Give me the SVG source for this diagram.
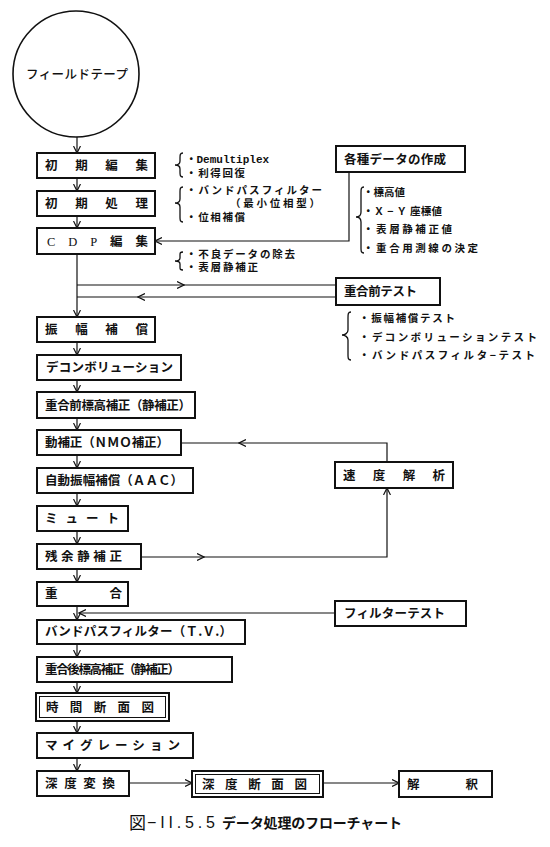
<svg xmlns="http://www.w3.org/2000/svg" width="550" height="847" viewBox="0 0 550 847">
<defs>
<marker id="ah" viewBox="0 0 8 8" refX="7" refY="4" markerWidth="8" markerHeight="8" markerUnits="userSpaceOnUse" orient="auto">
<path d="M0,0.5 L7,4 L0,7.5" fill="none" stroke="#111" stroke-width="1.2"/>
</marker>
<style>
.box{fill:#fff;stroke:#111;stroke-width:2}
.thin{fill:none;stroke:#111;stroke-width:1}
.c{fill:none;stroke:#111;stroke-width:1.2}
.a{fill:none;stroke:#111;stroke-width:1.2;marker-end:url(#ah)}
.t{font-family:"Noto Sans CJK JP","Noto Sans",sans-serif;font-size:12.5px;font-weight:bold;fill:#111}
.s{font-family:"Noto Sans CJK JP","Noto Sans",sans-serif;font-size:10.5px;font-weight:bold;fill:#111}
.br{fill:none;stroke:#111;stroke-width:1.3}
</style>
</defs>
<rect width="550" height="847" fill="#fff"/>

<g id="connectors">
<path class="a" d="M77,136 V153"/>
<path class="a" d="M77,178 V191"/>
<path class="a" d="M77,216 V228"/>
<path class="a" d="M77,254 V317"/>
<path class="a" d="M77,342 V355"/>
<path class="a" d="M77,380 V392"/>
<path class="a" d="M77,418 V430"/>
<path class="a" d="M77,455 V468"/>
<path class="a" d="M77,493 V506"/>
<path class="a" d="M77,531 V544"/>
<path class="a" d="M77,569 V582"/>
<path class="a" d="M77,606 V620"/>
<path class="a" d="M77,644 V657"/>
<path class="a" d="M77,682 V693"/>
<path class="a" d="M77,721 V733"/>
<path class="a" d="M77,758 V771"/>
<path class="a" d="M349,172 V241 H155"/>
<path class="a" d="M77,285 H184"/>
<path class="c" d="M184,285 H336"/>
<path class="a" d="M336,297 H138"/>
<path class="c" d="M138,297 H77"/>
<path class="a" d="M387,462 V443 H239"/>
<path class="c" d="M239,443 H181"/>
<path class="a" d="M141,557 H204"/>
<path class="a" d="M204,557 H387 V488"/>
<path class="a" d="M335,613 H79"/>
<path class="a" d="M129,783 H192"/>
<path class="a" d="M323,783 H399"/>
</g>

<g id="braces">
<path class="br" d="M183,153 C180,153 180,155 180,158 L180,161 C180,164 178,165 175,165 C178,165 180,166 180,169 L180,172 C180,175 180,177 183,177"/>
<path class="br" d="M183,187 C180,187 180,189 180,192 L180,199 C180,202 178,203 175,203 C178,203 180,204 180,207 L180,217 C180,220 180,222 183,222"/>
<path class="br" d="M183,252 C180,252 180,253 180,255 L180,258 C180,260 178,261 175,261 C178,261 180,262 180,264 L180,267 C180,269 180,270 183,270"/>
<path class="br" d="M364,187 C361,187 361,189 361,193 L361,212 C361,215 359,217 356,217 C359,217 361,219 361,222 L361,248 C361,251 361,253 364,253"/>
<path class="br" d="M351,312 C348,312 348,314 348,318 L348,330 C348,333 345,335 342,335 C345,335 348,337 348,340 L348,355 C348,358 348,360 351,360"/>
</g>

<g id="tape">
<circle cx="76" cy="74" r="63" fill="#fff" stroke="#111" stroke-width="1.6"/>
<text class="t" x="26" y="79" textLength="102" lengthAdjust="spacing" style="font-weight:500">フィールドテープ</text>
</g>

<g id="n1"><rect class="box" x="37" y="153" width="118" height="25"/><text class="t" x="45" y="170" textLength="103" lengthAdjust="spacing">初期編集</text></g>
<g id="n2"><rect class="box" x="37" y="191" width="118" height="25"/><text class="t" x="45" y="208" textLength="103" lengthAdjust="spacing">初期処理</text></g>
<g id="n3"><rect class="box" x="37" y="228" width="118" height="26"/><text class="t" x="47" y="246" textLength="101" lengthAdjust="spacing" style="font-family:'Liberation Serif','Noto Sans CJK JP',serif;font-weight:normal">CDP<tspan style="font-family:'Noto Sans CJK JP',sans-serif;font-weight:bold">編集</tspan></text></g>
<g id="n4"><rect class="box" x="37" y="317" width="118" height="25"/><text class="t" x="45" y="334" textLength="103" lengthAdjust="spacing">振幅補償</text></g>
<g id="n5"><rect class="box" x="37" y="355" width="144" height="25"/><text class="t" x="46" y="372" textLength="127" lengthAdjust="spacing">デコンボリューション</text></g>
<g id="n6"><rect class="box" x="37" y="392" width="158" height="26"/><text class="t" x="45" y="410" textLength="146" lengthAdjust="spacing">重合前標高補正（静補正）</text></g>
<g id="n7"><rect class="box" x="37" y="430" width="144" height="25"/><text class="t" x="45" y="447" textLength="124" lengthAdjust="spacing">動補正（ＮＭＯ補正）</text></g>
<g id="n8"><rect class="box" x="37" y="468" width="156" height="25"/><text class="t" x="45" y="485" textLength="138" lengthAdjust="spacing">自動振幅補償（ＡＡＣ）</text></g>
<g id="n9"><rect class="box" x="37" y="506" width="91" height="25"/><text class="t" x="45" y="523" textLength="74" lengthAdjust="spacing">ミュート</text></g>
<g id="n10"><rect class="box" x="37" y="544" width="104" height="25"/><text class="t" x="45" y="561" textLength="77" lengthAdjust="spacing">残余静補正</text></g>
<g id="n11"><rect class="box" x="37" y="582" width="91" height="24"/><text class="t" x="45" y="598" textLength="77" lengthAdjust="spacing">重合</text></g>
<g id="n12"><rect class="box" x="37" y="620" width="208" height="24"/><text class="t" x="45" y="636" textLength="187" lengthAdjust="spacing">バンドパスフィルター（Ｔ.Ｖ.）</text></g>
<g id="n13"><rect class="box" x="37" y="657" width="195" height="25"/><text class="t" x="45" y="674" textLength="135" lengthAdjust="spacing">重合後標高補正（静補正）</text></g>
<g id="n14"><rect class="box" x="36" y="693" width="133" height="28"/><rect class="thin" x="39.5" y="696.5" width="126" height="21"/><text class="t" x="46" y="712" textLength="108" lengthAdjust="spacing">時間断面図</text></g>
<g id="n15"><rect class="box" x="37" y="733" width="156" height="25"/><text class="t" x="45" y="750" textLength="135" lengthAdjust="spacing">マイグレーション</text></g>
<g id="n16"><rect class="box" x="37" y="771" width="92" height="25"/><text class="t" x="45" y="788" textLength="70" lengthAdjust="spacing">深度変換</text></g>
<g id="n17"><rect class="box" x="192" y="771" width="131" height="26"/><rect class="thin" x="195.5" y="774.5" width="124" height="19"/><text class="t" x="202" y="789" textLength="105" lengthAdjust="spacing">深度断面図</text></g>
<g id="n18"><rect class="box" x="399" y="771" width="93" height="26"/><text class="t" x="407" y="789" textLength="71" lengthAdjust="spacing">解釈</text></g>
<g id="n19"><rect class="box" x="336" y="146" width="129" height="26"/><text class="t" x="344" y="164" textLength="102" lengthAdjust="spacing">各種データの作成</text></g>
<g id="n20"><rect class="box" x="336" y="278" width="104" height="27"/><text class="t" x="344" y="296" textLength="73" lengthAdjust="spacing">重合前テスト</text></g>
<g id="n21"><rect class="box" x="335" y="462" width="118" height="26"/><text class="t" x="343" y="480" textLength="102" lengthAdjust="spacing">速度解析</text></g>
<g id="n22"><rect class="box" x="335" y="601" width="131" height="25"/><text class="t" x="344" y="618" textLength="101" lengthAdjust="spacing">フィルターテスト</text></g>

<g id="notes">
<text class="s" x="186" y="163">・<tspan style="font-family:'Liberation Mono',monospace;font-size:11px">Demultiplex</tspan></text>
<text class="s" x="186" y="176.5" textLength="59" lengthAdjust="spacing">・利得回復</text>
<text class="s" x="186" y="193.5" textLength="136" lengthAdjust="spacing">・バンドパスフィルター</text>
<text class="s" x="230" y="207" textLength="90" lengthAdjust="spacing">（最小位相型）</text>
<text class="s" x="186" y="221" textLength="59" lengthAdjust="spacing">・位相補償</text>
<text class="s" x="186" y="257.5" textLength="109" lengthAdjust="spacing">・不良データの除去</text>
<text class="s" x="186" y="271" textLength="72" lengthAdjust="spacing">・表層静補正</text>
<text class="s" x="363" y="196" textLength="42" lengthAdjust="spacing">・標高値</text>
<text class="s" x="363" y="215" textLength="79" lengthAdjust="spacing">・Ｘ − Ｙ 座標値</text>
<text class="s" x="363" y="233" textLength="89" lengthAdjust="spacing">・表層静補正値</text>
<text class="s" x="363" y="252" textLength="115" lengthAdjust="spacing">・重合用測線の決定</text>
<text class="s" x="359" y="322" textLength="96" lengthAdjust="spacing">・振幅補償テスト</text>
<text class="s" x="359" y="341" textLength="178" lengthAdjust="spacing">・デコンボリューションテスト</text>
<text class="s" x="359" y="359" textLength="176" lengthAdjust="spacing">・バンドパスフィルタ−テスト</text>
</g>

<g id="caption">
<text x="129" y="829" style="font-family:'Noto Sans CJK JP',sans-serif;font-size:17px;fill:#111">図</text>
<text x="147" y="828" textLength="68" lengthAdjust="spacing" style="font-family:'Liberation Sans',sans-serif;font-size:16px;fill:#111">−II.5.5</text>
<text x="222" y="828" textLength="180" lengthAdjust="spacing" style="font-family:'Noto Sans CJK JP',sans-serif;font-size:14px;font-weight:bold;fill:#111">データ処理のフローチャート</text>
</g>
</svg>
